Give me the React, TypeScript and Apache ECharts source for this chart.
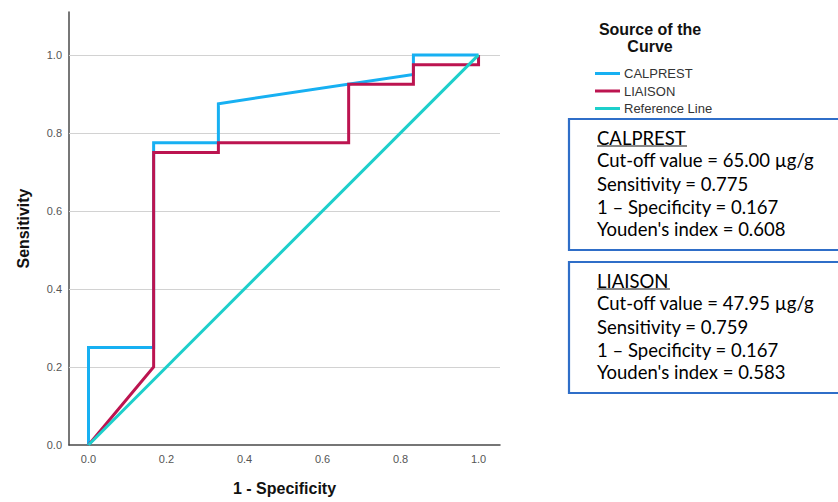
import React, { useEffect, useRef } from "react";
import * as echarts from "echarts";

const calprestX = [0, 0, 0.167, 0.167, 0.333, 0.333, 0.833, 0.833, 1];
const calprestY = [0, 0.25, 0.25, 0.775, 0.775, 0.875, 0.95, 1, 1];
const liaisonX = [0, 0.167, 0.167, 0.333, 0.333, 0.667, 0.667, 0.833, 0.833, 1, 1];
const liaisonY = [0, 0.2, 0.75, 0.75, 0.775, 0.775, 0.925, 0.925, 0.975, 0.975, 1];
const referenceX = [0, 1];
const referenceY = [0, 1];
const xTicks = [0, 0.2, 0.4, 0.6, 0.8, 1.0];
const yTicks = [0, 0.2, 0.4, 0.6, 0.8, 1.0];
const seriesNames = ["CALPREST", "LIAISON", "Reference Line"];
const calprestBox = [
  "CALPREST",
  "Cut-off value = 65.00 µg/g",
  "Sensitivity = 0.775",
  "1 – Specificity = 0.167",
  "Youden's index = 0.608",
];
const liaisonBox = [
  "LIAISON",
  "Cut-off value = 47.95 µg/g",
  "Sensitivity = 0.759",
  "1 – Specificity = 0.167",
  "Youden's index = 0.583",
];

const COLORS = ["#17B0F2", "#BC1450", "#1DCFCB"];
const FONT = "'Liberation Sans', Arial, sans-serif";
const BOX_FONT = "Lato, 'Open Sans', sans-serif";

function zip(xs: number[], ys: number[]) {
  return xs.map((x, i) => [x, ys[i]]);
}

function boxGraphic(lines: string[], top: number, underlineW: number) {
  const lineY = [19, 41, 65, 88, 110];
  const els: any[] = [
    {
      type: "rect",
      shape: { x: 569, y: top, width: 280, height: 131 },
      style: { fill: "#fff", stroke: "#2F6EC8", lineWidth: 2.2 },
    },
  ];
  lines.forEach((t, i) => {
    els.push({
      type: "text",
      x: 597,
      y: top + lineY[i],
      style: {
        text: t,
        font: `18.5px ${BOX_FONT}`,
        fill: "#000",
        textVerticalAlign: "middle",
        textAlign: "left",
      },
    });
  });
  els.push({
    type: "line",
    shape: { x1: 597, y1: top + 27, x2: 597 + underlineW, y2: top + 27 },
    style: { stroke: "#111", lineWidth: 1.2 },
  });
  return els;
}

export default function App() {
  const ref = useRef<HTMLDivElement>(null);
  useEffect(() => {
    if (!ref.current) return;
    const chart = echarts.init(ref.current, null, { renderer: "svg" });
    const lineSeries = (name: string, xs: number[], ys: number[], idx: number) => ({
      name,
      type: "line",
      data: zip(xs, ys),
      symbol: "none",
      z: 3 + idx,
      lineStyle: { color: COLORS[idx], width: 3, join: "miter" },
      itemStyle: { color: COLORS[idx] },
    });
    chart.setOption({
      animation: false,
      grid: { left: 69, right: 338, top: 12, bottom: 57, containLabel: false },
      textStyle: { fontFamily: FONT },
      xAxis: {
        type: "value",
        min: -0.05,
        max: 1.055,
        name: "1 - Specificity",
        nameLocation: "middle",
        nameGap: 35,
        nameTextStyle: { fontSize: 16, fontWeight: "bold", color: "#111", fontFamily: FONT },
        axisLine: { show: true, onZero: false, lineStyle: { color: "#4a4a4a", width: 1.5 } },
        axisTick: { show: false },
        splitLine: { show: false },
        axisLabel: {
          customValues: xTicks,
          formatter: (v: number) => v.toFixed(1),
          fontSize: 11,
          color: "#555",
          margin: 8,
          fontFamily: FONT,
        },
      },
      yAxis: {
        type: "value",
        min: 0,
        max: 1.11,
        name: "Sensitivity",
        nameLocation: "middle",
        nameGap: 38,
        nameTextStyle: { fontSize: 16, fontWeight: "bold", color: "#111", fontFamily: FONT },
        axisLine: { show: true, onZero: false, lineStyle: { color: "#4a4a4a", width: 1.5 } },
        axisTick: { show: false },
        splitLine: { show: false },
        axisLabel: {
          customValues: yTicks,
          formatter: (v: number) => v.toFixed(1),
          fontSize: 11,
          color: "#555",
          margin: 7,
          fontFamily: FONT,
        },
      },
      legend: {
        data: seriesNames.map((n) => ({ name: n, icon: "rect" })),
        orient: "vertical",
        left: 590,
        top: 62,
        itemWidth: 25,
        itemHeight: 3,
        itemGap: 4.5,
        textStyle: { fontSize: 13, color: "#333", fontFamily: FONT, padding: [0, 0, 0, -1] },
      },
      series: [
        {
          name: "grid",
          type: "line",
          data: [],
          z: 1,
          markLine: {
            silent: true,
            z: 1,
            symbol: "none",
            label: { show: false },
            lineStyle: { color: "#d2d2d2", width: 1.2, type: "solid" },
            data: yTicks.filter((v) => v > 0).map((v) => ({ yAxis: v })),
          },
        },
        lineSeries(seriesNames[0], calprestX, calprestY, 0),
        lineSeries(seriesNames[1], liaisonX, liaisonY, 1),
        lineSeries(seriesNames[2], referenceX, referenceY, 2),
      ],
      graphic: [
        {
          type: "text",
          x: 650,
          y: 29,
          style: {
            text: "Source of the",
            font: `bold 16px ${FONT}`,
            fill: "#111",
            textAlign: "center",
            textVerticalAlign: "middle",
          },
        },
        {
          type: "text",
          x: 650,
          y: 46,
          style: {
            text: "Curve",
            font: `bold 16px ${FONT}`,
            fill: "#111",
            textAlign: "center",
            textVerticalAlign: "middle",
          },
        },
        ...boxGraphic(calprestBox, 119, 90),
        ...boxGraphic(liaisonBox, 262, 73),
      ],
    });
    return () => chart.dispose();
  }, []);
  return (
    <div
      ref={ref}
      style={{ position: "fixed", left: 0, top: 0, width: 838, height: 502, background: "#fff" }}
    />
  );
}
